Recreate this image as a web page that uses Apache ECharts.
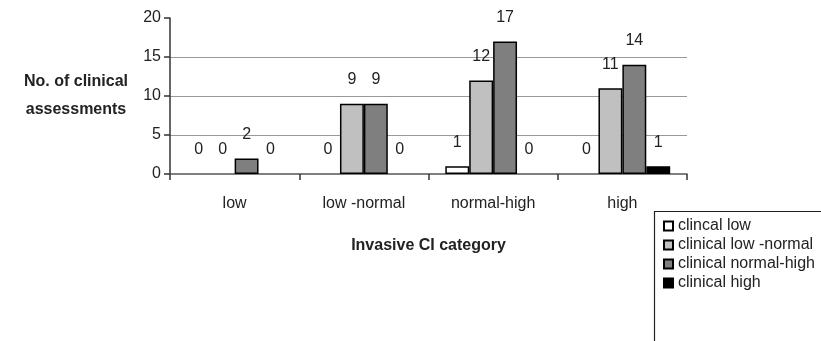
<!DOCTYPE html>
<html><head><meta charset="utf-8">
<script src="https://cdn.jsdelivr.net/npm/echarts@6/dist/echarts.min.js"></script>
<style>html,body{margin:0;padding:0;background:#fff}#c{width:821px;height:341px}</style>
</head><body><div id="c"></div>
<script>
const categories = ["low", "low -normal", "normal-high", "high"];
const seriesNames = ["clincal low", "clinical low -normal", "clinical normal-high", "clinical high"];
const clinicalLow = [0, 0, 1, 0];
const clinicalLowNormal = [0, 9, 12, 11];
const clinicalNormalHigh = [2, 9, 17, 14];
const clinicalHigh = [0, 0, 0, 1];
const yTicks = [0, 5, 10, 15, 20];
const colors = ["#ffffff", "#c0c0c0", "#7f7f7f", "#000000"];

const font = "Liberation Sans, Arial, sans-serif";
const values = [clinicalLow, clinicalLowNormal, clinicalNormalHigh, clinicalHigh];
const chart = echarts.init(document.getElementById('c'));
chart.setOption({
  animation: false,
  textStyle: {fontFamily: font},
  grid: {left: 170, right: 134, top: 18, bottom: 167},
  xAxis: {
    type: 'category', data: categories,
    axisLine: {lineStyle: {color: '#555', width: 1.5}},
    axisTick: {show: true, length: 6, lineStyle: {color: '#333', width: 1.5}},
    axisLabel: {fontSize: 16, color: '#222', margin: 22, fontFamily: font},
    name: 'Invasive CI category', nameLocation: 'middle', nameGap: 64,
    nameTextStyle: {fontSize: 16, fontWeight: 'bold', color: '#222', fontFamily: font}
  },
  yAxis: {
    type: 'value', min: 0, max: yTicks[yTicks.length - 1], interval: 5,
    axisLine: {show: true, lineStyle: {color: '#333', width: 1.5}},
    axisTick: {show: true, length: 6, lineStyle: {color: '#333', width: 1.5}},
    axisLabel: {fontSize: 16, color: '#222', margin: 9, fontFamily: font},
    splitLine: {show: true, lineStyle: {color: '#999', width: 1.2},
      showMinLine: false, showMaxLine: false}
  },
  legend: {
    orient: 'vertical', left: 663, top: 218, padding: 0,
    itemWidth: 9, itemHeight: 9, itemGap: 3,
    icon: 'rect',
    textStyle: {fontSize: 16, color: '#222', lineHeight: 15, fontFamily: font, padding: [0,0,0,0]},
    data: seriesNames
  },
  graphic: [
    {type: 'rect', left: 652, top: 209, shape: {width: 200, height: 200},
     style: {fill: 'none', stroke: '#222', lineWidth: 1.2}, silent: true},
    {type: 'text', x: 76, y: 82,
     style: {text: 'No. of clinical', font: 'bold 16px ' + font, fill: '#222',
             align: 'center', verticalAlign: 'middle'}},
    {type: 'text', x: 76, y: 110,
     style: {text: 'assessments', font: 'bold 16px ' + font, fill: '#222',
             align: 'center', verticalAlign: 'middle'}}
  ],
  series: seriesNames.map((n, i) => ({
    name: n, type: 'bar',
    data: values[i].map(v => v === 0 ? {value: v, itemStyle: {borderWidth: 0}} : v),
    barGap: '0%', barCategoryGap: '26%',
    itemStyle: {color: colors[i], borderColor: '#000', borderWidth: 1.5},
    label: {show: true, position: 'top', distance: 16, fontSize: 16, color: '#222', fontFamily: font}
  }))
});
</script></body></html>
